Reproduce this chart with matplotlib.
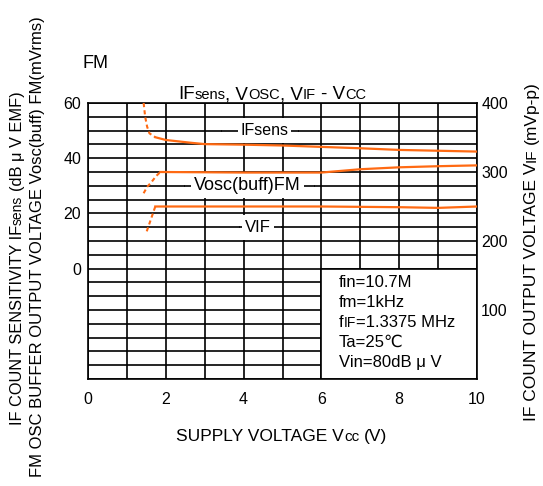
import matplotlib
matplotlib.use("Agg")
import matplotlib.pyplot as plt
from matplotlib.patches import Rectangle

plt.rcParams['font.family'] = ['Liberation Sans', 'DejaVu Sans']

W, H = 543, 486
ORANGE = '#ff6a13'

# IFsens (left axis, dBuV EMF)
ifs_dash_x = [1.43, 1.47, 1.52, 1.58, 1.73]
ifs_dash_y = [60.0, 55.0, 51.4, 49.0, 47.6]
ifs_x = [1.73, 2.0, 2.64, 3.0, 4.0, 5.0, 6.0, 7.0, 8.0, 9.0, 10.0]
ifs_y = [47.6, 46.6, 45.6, 45.1, 44.9, 44.6, 44.1, 43.6, 43.0, 42.7, 42.4]

# Vosc(buff)FM (left axis)
vosc_dash_x = [1.43, 1.52, 1.64, 1.75, 1.86]
vosc_dash_y = [27.3, 29.6, 31.5, 33.5, 35.0]
vosc_x = [1.86, 3.0, 4.0, 5.0, 6.0, 7.0, 8.0, 9.0, 10.0]
vosc_y = [35.0, 34.9, 34.8, 34.8, 34.8, 36.0, 36.7, 37.1, 37.4]

# VIF (right axis, mVp-p)
vif_dash_x = [1.51, 1.62, 1.73]
vif_dash_y = [214.0, 232.0, 250.0]
vif_x = [1.73, 2.0, 4.0, 6.0, 8.0, 9.0, 10.0]
vif_y = [250.0, 250.0, 250.0, 250.0, 249.0, 248.0, 250.0]

x_ticks = [0, 2, 4, 6, 8, 10]
left_ticks = [0, 20, 40, 60]
right_ticks = [100, 200, 300, 400]

cond_lines = [
    [("fin=10.7M", 12)],
    [("fm=1kHz", 12)],
    [("f", 12), ("IF", 10), ("=1.3375 MHz", 12)],
    [("Ta=25℃", 12)],
    [("Vin=80dB μ V", 12)],
]

fig = plt.figure(figsize=(W / 100, H / 100), dpi=100)
ax = fig.add_axes([88 / W, 1 - 379 / H, 389 / W, 276 / H])
ax.set_xlim(0, 10)
ax.set_ylim(-40, 60)
ax.set_xticks(x_ticks)
ax.set_xticks(range(0, 11), minor=True)
ax.set_yticks(left_ticks)
ax.set_yticks(range(-40, 61, 5), minor=True)
ax.grid(True, which='both', color='black', lw=1.2)
ax.tick_params(which='both', length=0, labelsize=11.5)
ax.tick_params(axis='x', pad=9)
ax.tick_params(axis='y', pad=5)
for sp in ax.spines.values():
    sp.set_linewidth(1.2)

ax2 = ax.twinx()
ax2.set_ylim(0, 400)
ax2.set_yticks(right_ticks)
ax2.tick_params(length=0, labelsize=11.5, pad=3)
for sp in ax2.spines.values():
    sp.set_visible(False)

# white conditions box
ax.add_patch(Rectangle((6, -40), 4, 40, facecolor='white', edgecolor='black', lw=1.2, zorder=2))


def label_box(x0, x1, yc, tx, s, size):
    ax.add_patch(Rectangle((x0, yc - 4.6), x1 - x0, 9.2, facecolor='white', edgecolor='none', zorder=2))
    ax.plot([x0, x1], [yc, yc], color='black', lw=1.2, zorder=2.1)
    ax.text(tx, yc, s, fontsize=size, ha='center', va='center', zorder=2.2,
            bbox=dict(facecolor='white', edgecolor='none', pad=2))


label_box(3.45, 5.4, 50, 4.53, "IFsens", 11.5)
label_box(2.5, 5.8, 30, 4.1, "Vosc(buff)FM", 13)
label_box(3.9, 4.95, 15, 4.37, "VIF", 12)

ax.plot(ifs_dash_x, ifs_dash_y, color=ORANGE, lw=1.5, ls=(0, (2, 1.5)), zorder=3)
ax.plot(ifs_x, ifs_y, color=ORANGE, lw=1.6, zorder=3)
ax.plot(vosc_dash_x, vosc_dash_y, color=ORANGE, lw=1.5, ls=(0, (2, 1.5)), zorder=3)
ax.plot(vosc_x, vosc_y, color=ORANGE, lw=1.6, zorder=3)
ax2.plot(vif_dash_x, vif_dash_y, color=ORANGE, lw=1.5, ls=(0, (2, 1.5)), zorder=3)
ax2.plot(vif_x, vif_y, color=ORANGE, lw=1.6, zorder=3)

renderer = fig.canvas.get_renderer()


def adv(s, size):
    # advance width in pixels, spaces included
    t1 = fig.text(0, 0, '|' + s + '|', fontsize=size)
    t2 = fig.text(0, 0, '||', fontsize=size)
    w = t1.get_window_extent(renderer).width - t2.get_window_extent(renderer).width
    t1.remove()
    t2.remove()
    return w


def rich(pieces, x, y, rot=0, center=False):
    # x, y in image pixels from the top-left corner
    widths = [adv(s, size) for s, size in pieces]
    pos = -sum(widths) / 2 if center else 0
    for (s, size), w in zip(pieces, widths):
        lead = adv(s[:len(s) - len(s.lstrip())], size) if s.startswith(' ') else 0
        if rot:
            px, py = x, y - pos - lead
        else:
            px, py = x + pos + lead, y
        fig.text(px / W, 1 - py / H, s.strip(), fontsize=size, rotation=rot,
                 rotation_mode='anchor', ha='left', va='baseline')
        pos += w


rich([("FM", 13)], 82, 68)
rich([("IF", 13.5), ("sens", 10.5), (", V", 13.5), ("OSC", 10.5), (", V", 13.5),
      ("IF", 10.5), (" - V", 13.5), ("CC", 10.5)], 272, 99, center=True)
rich([("SUPPLY VOLTAGE V", 12.5), ("cc", 11), (" (V)", 12.5)], 282, 441, center=True)
rich([("IF COUNT SENSITIVITY IF", 11.8), ("sens", 10), (" (dB μ V EMF)", 11.8)], 22, 425, rot=90)
rich([("FM OSC BUFFER OUTPUT VOLTAGE Vosc(buff) FM(mVrms)", 12)], 42, 477, rot=90)
rich([("IF COUNT OUTPUT VOLTAGE V", 12.5), ("IF", 11), (" (mVp-p)", 12.5)], 536, 421, rot=90)

for i, line in enumerate(cond_lines):
    rich(line, 339, 287 + 20 * i)

fig.savefig('out.png', dpi=100)
